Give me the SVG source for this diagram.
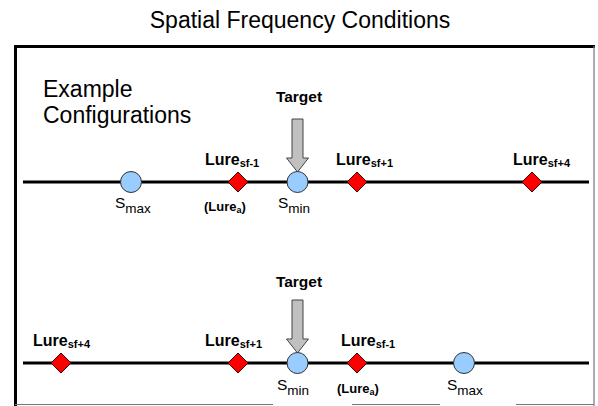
<svg xmlns="http://www.w3.org/2000/svg" width="598" height="406" viewBox="0 0 598 406">
<style>
text{font-family:"Liberation Sans",Arial,sans-serif;fill:#000}
.title{font-size:23px}
.big{font-size:23px}
.tgt{font-size:15.5px;font-weight:bold}
.lure{font-size:16px;font-weight:bold}
.lsub{font-size:11px;font-weight:bold}
.la{font-size:13px;font-weight:bold}
.lasub{font-size:9px;font-weight:bold}
.s{font-size:15.5px}
.ssub{font-size:13.5px}
.axis{stroke:#000;stroke-width:3;fill:none}
.circ{fill:#99ccff;stroke:#333;stroke-width:1}
.dia{fill:#ff0000;stroke:#400;stroke-width:1}
.arrow{fill:#c0c0c0;stroke:#444;stroke-width:1}
</style>
<defs>
<polygon id="diamond" class="dia" points="0,-10 10,0 0,10 -10,0"/>
<path id="tarrow" class="arrow" d="M-5.5,0 H5.5 V39 H11 L0,53 L-11,39 H-5.5 Z"/>
</defs>
<text class="title" x="300" y="28" text-anchor="middle">Spatial Frequency Conditions</text>
<g id="frame">
<line x1="14" y1="46.5" x2="595" y2="46.5" stroke="#000" stroke-width="3"/>
<line x1="15.5" y1="45" x2="15.5" y2="406" stroke="#000" stroke-width="3"/>
<line x1="594" y1="46" x2="594" y2="406" stroke="#777" stroke-width="1.2"/>
<line x1="15" y1="404.5" x2="273" y2="404.5" stroke="#777" stroke-width="1.2"/>
<line x1="352" y1="404.5" x2="440" y2="404.5" stroke="#777" stroke-width="1.2"/>
<line x1="516" y1="404.5" x2="594" y2="404.5" stroke="#777" stroke-width="1.2"/>
</g>
<text class="big" x="43" y="97">Example</text>
<text class="big" x="43" y="123">Configurations</text>
<g id="connectors">
<line class="axis" x1="23" y1="182" x2="589" y2="182"/>
<line class="axis" x1="23" y1="363" x2="589" y2="363"/>
</g>
<!-- Row 1 -->
<g id="target1">
<text class="tgt" x="299" y="102" text-anchor="middle">Target</text>
<use href="#tarrow" x="297.5" y="119"/>
</g>
<g id="smax1">
<circle class="circ" cx="131" cy="182" r="10.5"/>
<text x="115" y="208"><tspan class="s">S</tspan><tspan class="ssub" dy="5">max</tspan></text>
</g>
<g id="lure1a">
<use href="#diamond" x="238" y="182"/>
<text x="205" y="165"><tspan class="lure">Lure</tspan><tspan class="lsub" dy="2">sf-1</tspan></text>
<text x="204" y="211"><tspan class="la">(Lure</tspan><tspan class="lasub" dy="2">a</tspan><tspan class="la" dy="-2">)</tspan></text>
</g>
<g id="smin1">
<circle class="circ" cx="297.5" cy="182" r="10.5"/>
<text x="278" y="208"><tspan class="s">S</tspan><tspan class="ssub" dy="5">min</tspan></text>
</g>
<g id="lure1b">
<use href="#diamond" x="357" y="182"/>
<text x="336" y="165"><tspan class="lure">Lure</tspan><tspan class="lsub" dy="2">sf+1</tspan></text>
</g>
<g id="lure1c">
<use href="#diamond" x="532" y="182"/>
<text x="513" y="165"><tspan class="lure">Lure</tspan><tspan class="lsub" dy="2">sf+4</tspan></text>
</g>
<!-- Row 2 -->
<g id="target2">
<text class="tgt" x="299" y="287" text-anchor="middle">Target</text>
<use href="#tarrow" x="297.5" y="300"/>
</g>
<g id="lure2a">
<use href="#diamond" x="61" y="363"/>
<text x="33" y="346"><tspan class="lure">Lure</tspan><tspan class="lsub" dy="2">sf+4</tspan></text>
</g>
<g id="lure2b">
<use href="#diamond" x="238" y="363"/>
<text x="205" y="346"><tspan class="lure">Lure</tspan><tspan class="lsub" dy="2">sf+1</tspan></text>
</g>
<g id="smin2">
<circle class="circ" cx="297.5" cy="363" r="10.5"/>
<text x="277" y="390"><tspan class="s">S</tspan><tspan class="ssub" dy="5">min</tspan></text>
</g>
<g id="lure2c">
<use href="#diamond" x="357" y="363"/>
<text x="341" y="346"><tspan class="lure">Lure</tspan><tspan class="lsub" dy="2">sf-1</tspan></text>
<text x="337" y="393"><tspan class="la">(Lure</tspan><tspan class="lasub" dy="2">a</tspan><tspan class="la" dy="-2">)</tspan></text>
</g>
<g id="smax2">
<circle class="circ" cx="464" cy="363" r="10.5"/>
<text x="447" y="390"><tspan class="s">S</tspan><tspan class="ssub" dy="5">max</tspan></text>
</g>
</svg>
